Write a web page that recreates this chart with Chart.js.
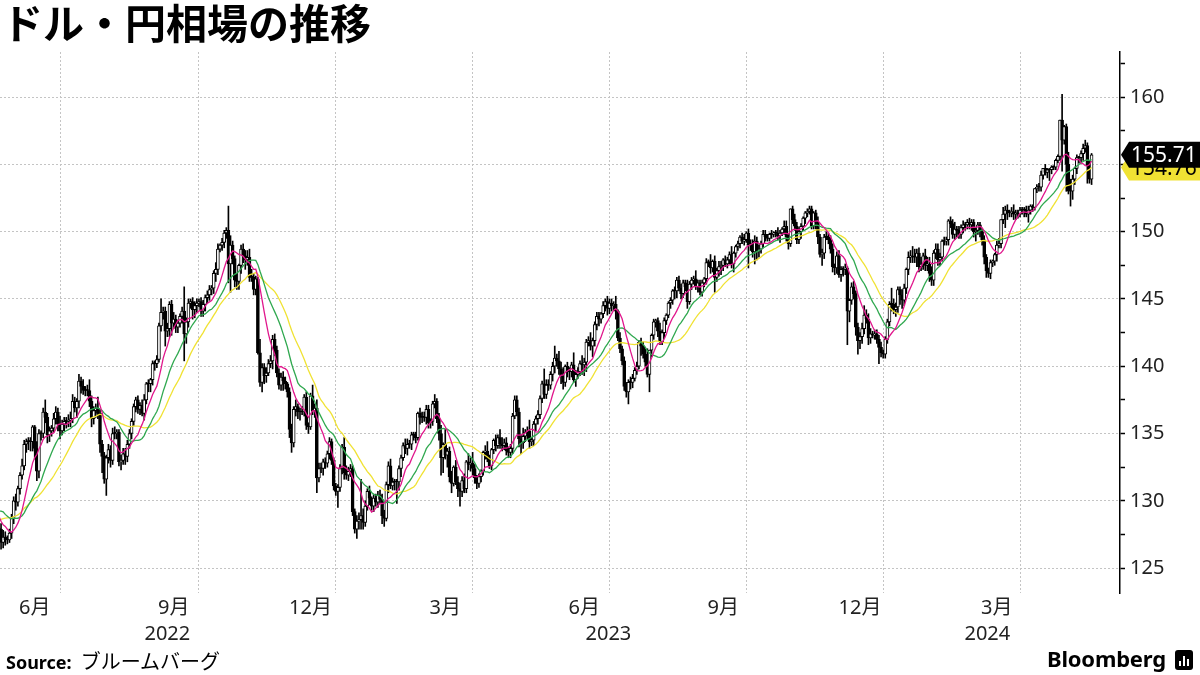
<!DOCTYPE html>
<html lang="ja">
<head>
<meta charset="utf-8">
<title>ドル・円相場の推移</title>
<script src="https://cdn.jsdelivr.net/npm/chart.js@4.4.1/dist/chart.umd.min.js"></script>
<style>
  html, body { margin:0; padding:0; background:#fff; }
  #wrap { position:relative; width:1200px; height:675px; overflow:hidden; }
  #c { position:absolute; left:0; top:0; }
  #title { position:absolute; left:2px; top:-2px; font:bold 41px/46px 'Noto Sans CJK JP', sans-serif; color:#000; white-space:nowrap; }
  #source { position:absolute; left:6px; top:647px; font:18px/28px 'Noto Sans', 'Noto Sans CJK JP', sans-serif; color:#000; white-space:nowrap; }
  #source b { font-weight:700; }
  #source span { font-family:'Noto Sans CJK JP', sans-serif; font-size:20px; margin-left:9px; }
  #logo { position:absolute; left:1047px; top:644px; font:bold 22px/28px 'Noto Sans', sans-serif; color:#000; white-space:nowrap; letter-spacing:-0.2px; }
  #logo i { display:inline-block; position:relative; width:18px; height:20px; margin-left:9px; vertical-align:-3px; background:#000; border-radius:3px; }
  #logo i em { position:absolute; bottom:4px; width:2px; background:#fff; }
</style>
</head>
<body>
<div id="wrap">
  <canvas id="c" width="1200" height="675"></canvas>
  <div id="title">ドル・円相場の推移</div>
  <div id="source"><b>Source:</b><span>ブルームバーグ</span></div>
  <div id="logo">Bloomberg<i><em style="left:4px;height:5px"></em><em style="left:8px;height:10px"></em><em style="left:12px;height:7px"></em></i></div>
</div>
<script>
// USD/JPY daily closes, one weekday each, from 2022-04-08 (first 30 days only feed the moving averages)
const startDate = '2022-04-08';
const closes = [
  124.3,
  125.4, 125.4, 125.6, 125.9, 126.4, // 04-11
  126.9, 128.9, 127.9, 128.4, 128.5,
  128.1, 127.2, 128.4, 130.8, 129.7,
  130.2, 130.1, 129.1, 130.2, 130.6, // 05-02
  130.3, 130.4, 129.9, 128.3, 129.2,
  129.2, 129.4, 128.3, 127.8, 127.9,
  127.9, 126.9, 127.3, 127.1, 127.1, // 05-23
  127.6, 128.7, 130.0, 129.9, 130.9,
  131.9, 132.6, 134.2, 134.4, 134.4, // 06-06
  134.4, 135.5, 133.9, 132.2, 135.0,
  135.0, 136.6, 136.2, 134.9, 135.2,
  135.4, 136.1, 136.6, 135.7, 135.2,
  135.7, 135.9, 135.9, 136.0, 136.1, // 07-04
  137.4, 136.9, 137.4, 138.9, 138.5,
  138.2, 138.2, 138.2, 137.4, 136.1,
  136.7, 136.9, 136.5, 134.2, 133.3,
  131.6, 133.2, 133.8, 133.0, 135.0, // 08-01
  135.0, 135.1, 132.9, 133.0, 133.5,
  133.3, 134.2, 135.0, 135.9, 137.0,
  137.5, 136.8, 137.1, 136.5, 137.5,
  138.7, 138.7, 139.0, 140.2, 140.2,
  140.5, 143.0, 144.0, 144.1, 142.6, // 09-05
  142.8, 144.6, 143.2, 143.5, 142.9,
  143.2, 143.7, 144.1, 142.4, 143.3,
  144.7, 144.8, 144.2, 144.5, 144.7,
  144.8, 144.1, 144.6, 145.1, 145.3, // 10-03
  145.7, 145.8, 146.9, 147.2, 148.7,
  149.0, 149.2, 149.9, 150.1, 147.6,
  149.0, 148.0, 146.4, 146.3, 147.5,
  148.7, 148.2, 147.9, 148.1, 146.6,
  146.6, 145.7, 146.5, 141.0, 138.8, // 11-07
  139.9, 139.3, 139.5, 140.2, 140.4,
  142.0, 141.2, 139.5, 138.6, 139.2,
  138.9, 138.7, 138.1, 135.3, 134.3,
  136.8, 137.0, 136.6, 136.6, 136.6, // 12-05
  137.7, 135.6, 135.5, 137.8, 136.7,
  136.9, 131.7, 132.4, 132.4, 132.9,
  132.8, 133.5, 134.4, 133.0, 131.1,
  130.7, 131.0, 132.4, 134.0, 132.1, // 2023-01-02
  131.9, 132.2, 132.4, 129.2, 127.9,
  128.5, 128.6, 128.9, 128.4, 129.6,
  130.7, 130.2, 129.6, 130.2, 129.9,
  130.4, 130.1, 128.9, 128.7, 131.2,
  132.6, 131.1, 131.4, 131.4, 131.4, // 02-06
  132.4, 133.2, 134.1, 133.9, 134.2,
  134.2, 134.9, 134.9, 134.7, 136.5,
  136.2, 136.2, 136.2, 136.8, 135.8,
  135.9, 137.2, 137.4, 136.1, 135.0, // 03-06
  133.2, 134.2, 133.4, 133.7, 131.8,
  131.3, 132.5, 131.4, 130.9, 130.7,
  131.5, 130.9, 132.9, 132.7, 132.8,
  132.4, 131.7, 131.3, 131.8, 132.2, // 04-03
  133.6, 133.7, 133.1, 132.6, 133.8,
  134.5, 134.1, 134.7, 134.2, 134.1,
  134.3, 133.7, 133.6, 133.9, 136.3,
  137.5, 136.6, 134.6, 134.3, 134.8, // 05-01
  135.1, 135.2, 134.4, 134.5, 135.7,
  136.1, 136.4, 137.6, 138.7, 137.9,
  138.6, 138.6, 139.4, 140.0, 140.6,
  140.4, 139.8, 139.3, 138.8, 140.0,
  139.6, 139.6, 140.1, 139.0, 139.4, // 06-05
  139.6, 140.2, 140.1, 140.3, 141.8,
  141.9, 141.5, 141.9, 143.1, 143.7,
  143.5, 143.9, 144.5, 144.8, 144.3,
  144.7, 144.5, 144.6, 144.1, 142.1, // 07-03
  141.3, 140.4, 138.5, 138.1, 138.8,
  138.8, 139.1, 139.7, 140.0, 141.8,
  141.5, 140.9, 140.3, 139.4, 141.2,
  142.3, 143.3, 143.4, 142.6, 141.8,
  142.5, 143.4, 143.8, 144.7, 144.9, // 08-07
  145.6, 145.6, 146.4, 145.8, 145.4,
  146.2, 145.9, 144.8, 146.1, 146.4,
  146.5, 145.9, 146.2, 145.5, 146.2,
  146.5, 147.7, 147.7, 147.3, 147.8, // 09-04
  146.6, 147.1, 147.4, 147.5, 147.9,
  147.6, 147.9, 148.3, 147.6, 148.4,
  148.9, 149.1, 149.6, 149.3, 149.4,
  149.9, 149.0, 149.1, 148.5, 149.3, // 10-02
  148.5, 148.7, 149.1, 149.8, 149.6,
  149.5, 149.8, 149.8, 149.9, 149.9,
  149.7, 149.9, 150.2, 150.4, 149.6,
  149.1, 151.7, 150.9, 150.4, 149.4,
  150.0, 150.4, 151.0, 151.4, 151.5, // 11-06
  151.7, 150.4, 151.4, 150.7, 149.6,
  148.3, 148.4, 149.6, 149.6, 149.4,
  148.7, 147.4, 147.3, 148.2, 146.8,
  147.2, 147.2, 147.3, 144.1, 144.9, // 12-04
  145.9, 145.4, 142.9, 141.9, 142.2,
  142.8, 143.8, 143.5, 142.1, 142.4,
  142.3, 142.4, 142.0, 141.4, 141.0,
  140.9, 142.0, 143.3, 144.6, 144.6, // 2024-01-01
  144.2, 144.4, 145.7, 145.3, 144.9,
  145.8, 147.2, 148.1, 148.2, 148.1,
  148.1, 148.4, 147.4, 147.6, 148.2,
  147.5, 147.6, 146.9, 146.4, 148.4,
  148.7, 147.9, 148.1, 149.3, 149.3, // 02-05
  149.4, 150.8, 150.6, 149.8, 150.2,
  150.1, 149.8, 150.3, 150.5, 150.5,
  150.7, 150.5, 150.7, 150.0, 150.1,
  150.5, 150.0, 149.4, 148.1, 147.1, // 03-04
  146.9, 147.7, 147.8, 148.3, 149.0,
  149.1, 150.9, 151.3, 151.6, 151.4,
  151.4, 151.5, 151.3, 151.4, 151.3,
  151.6, 151.6, 151.6, 151.3, 151.6, // 04-01
  151.9, 151.8, 153.2, 153.3, 153.3,
  154.2, 154.7, 154.4, 154.6, 154.6,
  154.8, 154.8, 155.3, 155.6, 158.3,
  156.8, 157.8, 155.0, 153.0, 153.0, // 04-29
  153.9, 154.7, 155.5, 155.5, 155.8,
  156.2, 156.4, 154.9, 153.9, 155.71
];
// wick lengths above / below the candle body, in tenths of a yen
const wickUp = [
  3,
  3,3,3,3,3, 3,3,3,3,3, 3,3,3,3,3, 3,3,3,3,3, 3,3,3,3,3, 3,3,3,3,3,
  4,4,5,4,3, 3,3,3,5,2, 2,5,3,2,3, 3,1,1,5,3, 2,3,9,3,3, 2,4,4,3,6,
  3,3,3,4,5, 5,3,2,5,3, 5,3,4,8,4, 3,3,8,3,3, 3,2,4,3,4, 5,2,2,4,4,
  4,3,3,2,2, 2,3,2,4,4, 1,3,1,2,2, 3,2,10,3,3, 4,2,3,5,3, 2,2,3,18,3,
  3,2,3,3,3, 2,3,3,2,3, 3,2,2,5,4, 1,3,2,2,18, 7,3,2,5,1, 3,4,4,5,6,
  6,3,2,1,10, 3,3,4,3,4, 3,4,3,3,3, 4,3,1,3,4, 2,5,2,3,4, 2,4,2,2,8,
  3,6,4,4,2, 3,2,3,2,2,
  2,2,3,2,7, 5,3,3,2,2, 4,5,27,5,4, 2,4,1,3,3, 3,4,4,4,2, 3,5,3,2,2,
  2,2,2,5,4, 3,2,2,2,1, 4,4,4,3,3, 2,2,5,2,4, 6,1,11,2,3, 4,1,5,4,4,
  3,5,1,6,4, 8,3,2,2,1, 1,4,7,3,1, 1,4,2,6,5, 3,4,3,3,2, 3,3,3,3,6,
  2,3,8,2,2, 2,3,2,2,11, 4,4,2,3,9, 3,7,5,6,1, 3,3,2,9,3, 3,2,6,3,2,
  3,6,2,2,3, 3,1,3,2,4, 3,3,2,6,1, 4,2,3,3,2, 4,3,2,3,1, 3,3,4,10,0,
  1,2,1,2,6, 2,2,1,1,2, 1,3,2,3,3, 2,2,5,2,2, 2,6,2,2,2, 1,3,2,6,1,
  4,2,4,3,1, 3,2,2,6,1, 1,2,1,3,4, 1,3,3,3,4, 3,3,2,3,3, 2,1,3,1,2,
  4,2,1,4,4, 2,0,2,4,3, 3,2,1,1,2, 2,2,1,2,4, 2,3,2,4,3, 3,4,2,3,4,
  2,2,3,1,1, 3,4,2,3,3, 4,7,4,4,4, 2,3,3,3,4,
  2,2,2,2,12, 4,3,2,2,4, 3,1,4,4,7, 6,3,4,5,2, 5,5,5,5,2, 4,4,3,1,3,
  2,1,3,3,5, 2,3,2,3,2, 2,3,2,2,2, 2,2,2,3,2, 2,2,1,1,3, 4,0,5,3,4,
  2,3,5,2,2, 2,2,2,3,3, 1,1,0,2,3, 3,0,3,1,1, 1,1,1,1,0, 19,1,2,9,9,
  3,1,2,1,2, 3,4,2,4,1
];
const wickDn = [
  3,
  3,3,3,3,3, 3,3,3,3,3, 3,3,3,3,3, 3,3,3,3,3, 3,3,3,3,3, 3,3,3,3,3,
  4,5,4,4,3, 2,4,4,6,3, 4,3,3,6,6, 7,7,8,7,5, 5,3,4,6,5, 4,3,4,5,6,
  3,5,5,4,5, 3,3,7,5,5, 3,4,4,4,6, 4,5,4,6,12, 3,12,4,5,3, 4,4,3,6,3,
  6,4,3,4,3, 4,3,4,2,5, 3,6,6,4,5, 3,2,4,5,11, 4,6,9,4,4, 4,3,5,20,7,
  4,4,7,6,5, 3,4,4,5,4, 4,4,4,6,4, 2,4,4,4,14, 21,4,5,6,6, 6,5,7,4,3,
  3,4,4,1,3, 7,6,5,2,3, 6,4,3,3,4, 7,4,4,6,7, 3,5,5,6,2, 3,3,5,2,3,
  5,11,3,3,5, 4,3,4,3,3,
  3,12,3,4,5, 3,4,4,3,3, 7,6,7,5,3, 3,5,3,4,3, 4,3,6,6,2, 6,2,3,6,16,
  6,6,2,4,5, 3,4,4,4,2, 5,4,3,5,4, 4,3,3,3,5, 13,11,3,9,4, 7,2,2,6,11,
  4,3,3,4,5, 5,4,4,3,4, 3,5,2,2,3, 3,4,2,3,4, 3,3,4,4,4, 2,3,6,8,4,
  4,5,5,3,4, 5,4,3,3,3, 3,4,3,5,5, 4,4,6,5,3, 4,6,4,2,5, 3,3,7,8,7,
  3,3,8,4,4, 5,3,3,4,5, 4,4,3,6,2, 3,3,3,4,9, 5,4,2,3,2, 7,3,3,2,13,
  5,3,4,4,2, 2,4,3,2,4, 3,6,5,2,4, 3,3,5,2,4, 3,2,4,2,3, 3,4,3,4,3,
  11,3,4,6,4, 2,3,3,3,6, 3,3,3,2,3, 2,17,4,4,9, 6,4,3,3,3, 2,2,3,2,3,
  3,5,2,4,3, 4,2,3,3,3, 3,5,3,4,3, 2,2,2,5,5, 2,8,4,2,3, 3,4,5,4,2,
  5,5,4,25,8, 3,4,6,10,6, 5,4,3,5,4, 2,3,3,12,3,
  3,3,3,3,5, 3,5,4,7,6, 4,4,4,4,4, 4,7,4,3,4, 4,4,6,4,4, 4,4,4,3,3,
  3,4,3,3,4, 5,3,3,4,4, 3,3,4,4,7, 3,4,4,5,5, 3,4,3,3,5, 2,3,3,10,5,
  3,3,4,4,3, 2,3,5,2,6, 3,3,2,3,3, 3,3,2,4,8, 3,2,2,2,3, 23,3,20,2,11,
  6,4,4,4,4, 5,3,13,3,4
];

const maPeriods = [10, 20, 30];
const maColors = ['#e0168c', '#2fa84f', '#f0e233'];
const yTicks = [125, 127.5, 130, 132.5, 135, 137.5, 140, 142.5, 145, 147.5, 150, 152.5, 155, 157.5, 160, 162.5];
const monthTicks = ['2022-06', '2022-09', '2022-12', '2023-03', '2023-06', '2023-09', '2023-12', '2024-03'];
const yearTicks = ['2022', '2023', '2024'];

if (wickUp.length !== closes.length || wickDn.length !== closes.length)
  console.error('length mismatch', closes.length, wickUp.length, wickDn.length);

// weekday calendar for the closes
const dates = [];
for (let d = new Date(startDate + 'T00:00:00Z'); dates.length < closes.length; d.setUTCDate(d.getUTCDate() + 1)) {
  const wd = d.getUTCDay();
  if (wd !== 0 && wd !== 6) dates.push(new Date(d));
}
const xMin = 31.5, xMax = 563.5;   // visible window: late May 2022 .. May 2024

// gridlines at the first weekday of each quarter
const quarterIdx = [];
dates.forEach((d, i) => {
  if (i && d.getUTCMonth() % 3 === 0 && d.getUTCMonth() !== dates[i - 1].getUTCMonth()) quarterIdx.push(i);
});
// month labels sit mid-month
const monthPos = new Map();
monthTicks.forEach(m => {
  const [yy, mm] = m.split('-').map(Number);
  const i = dates.findIndex(d => d.getUTCFullYear() === yy && d.getUTCMonth() === mm - 1 && d.getUTCDate() >= 15);
  monthPos.set(i, mm + '月');
});
// year labels centred on the visible part of each year
const yearPos = new Map();
yearTicks.forEach(y => {
  let a = -1, b = -1;
  dates.forEach((d, i) => { if (String(d.getUTCFullYear()) === y) { if (a < 0) a = i; b = i; } });
  const lo = Math.max(xMin, a - 0.5), hi = Math.min(xMax, b + 0.5);
  yearPos.set((lo + hi) / 2, y);
});

const opens = closes.map((c, i) => i ? closes[i - 1] : c);
const bodies = closes.map((c, i) => ({ x: i, y: [opens[i], c] }));
const wicks = closes.map((c, i) => ({
  x: i,
  y: [Math.min(opens[i], c) - wickDn[i] / 10, Math.max(opens[i], c) + wickUp[i] / 10]
}));
const sma = n => {
  const out = [];
  for (let i = n - 1; i < closes.length; i++) {
    let s = 0;
    for (let k = i - n + 1; k <= i; k++) s += closes[k];
    out.push({ x: i, y: s / n });
  }
  return out;
};
const maData = maPeriods.map(sma);

const tickFont = { family: "'Noto Sans', 'Noto Sans CJK JP', sans-serif", size: 20 };

const priceTags = {
  id: 'priceTags',
  afterDraw(chart) {
    const { ctx, chartArea } = chart, y = chart.scales.y, x0 = chartArea.right;
    const tag = (val, bg, fg) => {
      const py = y.getPixelForValue(val);
      ctx.save();
      ctx.fillStyle = bg;
      ctx.beginPath();
      ctx.moveTo(x0 + 1, py);
      ctx.lineTo(x0 + 9, py - 13);
      ctx.lineTo(1200, py - 13);
      ctx.lineTo(1200, py + 13);
      ctx.lineTo(x0 + 9, py + 13);
      ctx.closePath();
      ctx.fill();
      ctx.fillStyle = fg;
      ctx.font = "21px 'Noto Sans', sans-serif";
      ctx.textBaseline = 'middle';
      ctx.fillText(val.toFixed(2), x0 + 11, py + 1);
      ctx.restore();
    };
    const ma = maData[2];
    tag(ma[ma.length - 1].y, maColors[2], '#000');
    tag(closes[closes.length - 1], '#000', '#fff');
  }
};

new Chart(document.getElementById('c'), {
  type: 'bar',
  data: {
    datasets: [
      ...maData.map((d, k) => ({
        type: 'line', data: d, borderColor: maColors[k], borderWidth: 1.3,
        pointRadius: 0, tension: 0, order: k
      })),
      {
        type: 'bar', data: bodies, grouped: false, barThickness: 3, minBarLength: 1,
        borderWidth: 1, borderColor: '#000', borderSkipped: false,
        backgroundColor: c => (c.raw && c.raw.y[1] > c.raw.y[0]) ? '#fff' : '#000',
        order: 5
      },
      {
        type: 'bar', data: wicks, grouped: false, barThickness: 1,
        backgroundColor: '#000', borderWidth: 0, order: 6
      }
    ]
  },
  options: {
    responsive: false,
    animation: false,
    events: [],
    layout: { padding: { top: 52, left: 0, right: 0, bottom: 30 } },
    plugins: { legend: { display: false }, tooltip: { enabled: false } },
    scales: {
      x: {
        type: 'linear', position: 'bottom', min: xMin, max: xMax, offset: false, weight: 0,
        afterBuildTicks: s => { s.ticks = quarterIdx.map(v => ({ value: v })); },
        afterFit: s => { s.height = 0; },
        grid: { color: '#c4c4c4', lineWidth: 1, drawTicks: false, offset: false },
        border: { display: false, dash: [2, 2] },
        ticks: { display: false }
      },
      xm: {
        type: 'linear', axis: 'x', position: 'bottom', min: xMin, max: xMax, weight: 1, offset: false,
        afterBuildTicks: s => { s.ticks = [...monthPos.keys()].map(v => ({ value: v })); },
        afterFit: s => { s.height = 26; },
        grid: { display: false, drawTicks: false, offset: false },
        border: { display: false },
        ticks: { autoSkip: false, maxRotation: 0, padding: 3, color: '#222', font: tickFont,
                 callback: v => monthPos.get(v) || '' }
      },
      xy: {
        type: 'linear', axis: 'x', position: 'bottom', min: xMin, max: xMax, weight: 2, offset: false,
        afterBuildTicks: s => { s.ticks = [...yearPos.keys()].map(v => ({ value: v })); },
        afterFit: s => { s.height = 26; },
        grid: { display: false, drawTicks: false, offset: false },
        border: { display: false },
        ticks: { autoSkip: false, maxRotation: 0, padding: 3, color: '#222', font: tickFont,
                 callback: v => yearPos.get(v) || '' }
      },
      y: {
        type: 'linear', position: 'right', min: 123.15, max: 163.35,
        afterBuildTicks: s => { s.ticks = yTicks.map(v => ({ value: v })); },
        afterFit: s => { s.width = 80; },
        grid: {
          color: c => (c.tick && c.tick.value % 5 === 0) ? '#c4c4c4' : 'rgba(0,0,0,0)',
          tickColor: '#000', tickLength: 5, tickWidth: 1.5
        },
        border: { display: true, color: '#000', width: 1.5, dash: [2, 2] },
        ticks: { padding: 5, color: '#222', font: tickFont, autoSkip: false,
                 callback: v => v % 5 === 0 ? String(v) : '' }
      }
    }
  },
  plugins: [priceTags]
});
</script>
</body>
</html>
